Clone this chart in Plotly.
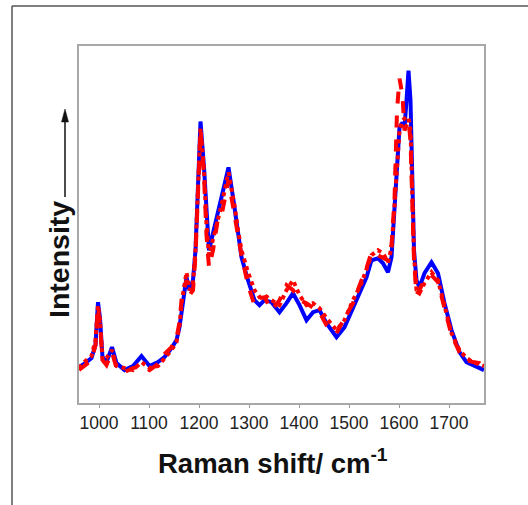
import plotly.graph_objects as go

# Raman shift (cm-1)
shift = [960, 970, 985, 993, 998, 1002, 1007, 1015, 1026, 1035, 1051, 1068, 1085, 1101, 1118, 1131,
         1145, 1155, 1161, 1166, 1175, 1181, 1188, 1193, 1197, 1203, 1210, 1215, 1220, 1228, 1238,
         1245, 1259, 1271, 1278, 1285, 1298, 1311, 1321, 1331, 1345, 1361, 1375, 1388, 1401, 1415,
         1428, 1441, 1455, 1475, 1491, 1508, 1525, 1535, 1545, 1558, 1568, 1578, 1585, 1591, 1596,
         1601, 1607, 1611, 1615, 1619, 1623, 1627, 1630, 1635, 1641, 1651, 1665, 1678, 1691, 1705,
         1721, 1735, 1748, 1761, 1770]

blue_spectrum = [36, 39, 45, 58, 101, 85, 46, 41, 56, 40, 33, 37, 47, 37, 41, 46,
                 55, 63, 76, 96, 126, 113, 123, 153, 203, 282, 236, 186, 153, 170, 190,
                 206, 236, 196, 170, 146, 123, 103, 98, 103, 101, 91, 100, 110, 98, 83,
                 91, 93, 80, 66, 76, 96, 116, 126, 143, 145, 140, 131, 146, 196, 243,
                 276, 281, 276, 303, 333, 303, 220, 153, 123, 116, 130, 141, 130, 100, 73,
                 51, 41, 38, 35, 33]

red_dotted = [35, 41, 47, 63, 98, 83, 43, 45, 53, 37, 35, 33, 41, 35, 37, 45,
              53, 61, 78, 103, 131, 113, 120, 153, 198, 275, 233, 178, 148, 163, 183,
              198, 231, 198, 173, 153, 131, 113, 106, 108, 103, 98, 113, 123, 108, 98,
              100, 95, 85, 73, 83, 103, 120, 133, 148, 153, 150, 141, 155, 198, 238,
              273, 283, 285, 283, 285, 273, 213, 148, 113, 110, 120, 131, 123, 98, 70,
              53, 45, 41, 39, 37]

red_dashed = [33, 37, 43, 58, 95, 78, 43, 38, 51, 35, 31, 35, 37, 33, 39, 49,
              56, 65, 81, 108, 123, 108, 113, 148, 203, 273, 228, 168, 136, 153, 185,
              188, 223, 191, 168, 148, 118, 98, 105, 106, 93, 103, 118, 113, 103, 100,
              95, 91, 78, 70, 85, 100, 123, 135, 151, 148, 145, 143, 158, 203, 293,
              325, 308, 273, 278, 283, 263, 203, 143, 108, 113, 123, 128, 121, 95, 68,
              51, 43, 41, 40, 36]

tick_vals = [1000, 1100, 1200, 1300, 1400, 1500, 1600, 1700]

W, H = 528, 505
L, R, T, B = 79, 44, 46, 102
PW, PH = W - L - R, H - T - B


def px(x):
    return (x - L) / PW


def py(y):
    return (H - B - y) / PH


fig = go.Figure()
fig.add_trace(go.Scatter(x=shift, y=blue_spectrum, mode="lines",
                         line=dict(color="#0000ff", width=4), showlegend=False))
fig.add_trace(go.Scatter(x=shift, y=red_dashed, mode="lines",
                         line=dict(color="#ff0000", width=4, dash="dash"), showlegend=False))
fig.add_trace(go.Scatter(x=shift, y=red_dotted, mode="lines",
                         line=dict(color="#ff0000", width=4, dash="dot"), showlegend=False))

fig.update_layout(
    width=W, height=H,
    margin=dict(l=L, r=R, t=T, b=B),
    paper_bgcolor="white", plot_bgcolor="white",
    font=dict(family="Liberation Sans, Arial, sans-serif"),
    xaxis=dict(range=[960, 1770], tickvals=tick_vals, ticks="outside", ticklen=3,
               tickcolor="#999999", tickfont=dict(size=17.5, color="#222222"),
               showline=True, linecolor="#a8a8a8", linewidth=2, mirror=True,
               showgrid=False, zeroline=False),
    yaxis=dict(range=[0, 357.6], showticklabels=False, ticks="",
               showline=True, linecolor="#a8a8a8", linewidth=2, mirror=True,
               showgrid=False, zeroline=False),
    annotations=[
        dict(text="<b>Raman shift/ cm<sup>-1</sup></b>", xref="paper", yref="paper",
             x=px(273), y=py(461), xanchor="center", yanchor="middle",
             showarrow=False, font=dict(size=27.5, color="#111111")),
        dict(text="<b>Intensity</b>", xref="paper", yref="paper",
             x=px(59), y=py(260), xanchor="center", yanchor="middle",
             textangle=-90, showarrow=False, font=dict(size=28.5, color="#111111")),
    ],
    shapes=[
        # outer frame (left and top)
        dict(type="line", xref="paper", yref="paper",
             x0=px(12), x1=px(12), y0=py(6), y1=py(510),
             line=dict(color="#555555", width=1.5)),
        dict(type="line", xref="paper", yref="paper",
             x0=px(12), x1=px(530), y0=py(6), y1=py(6),
             line=dict(color="#555555", width=1.5)),
        # intensity arrow
        dict(type="line", xref="paper", yref="paper",
             x0=px(65), x1=px(65), y0=py(197), y1=py(118),
             line=dict(color="#111111", width=1.5)),
        dict(type="path", xref="paper", yref="paper",
             path=f"M {px(61.5)} {py(122)} L {px(65)} {py(109)} L {px(68.5)} {py(122)} Z",
             fillcolor="#111111", line=dict(color="#111111", width=0.5)),
    ],
)

fig.write_html("out.html")
